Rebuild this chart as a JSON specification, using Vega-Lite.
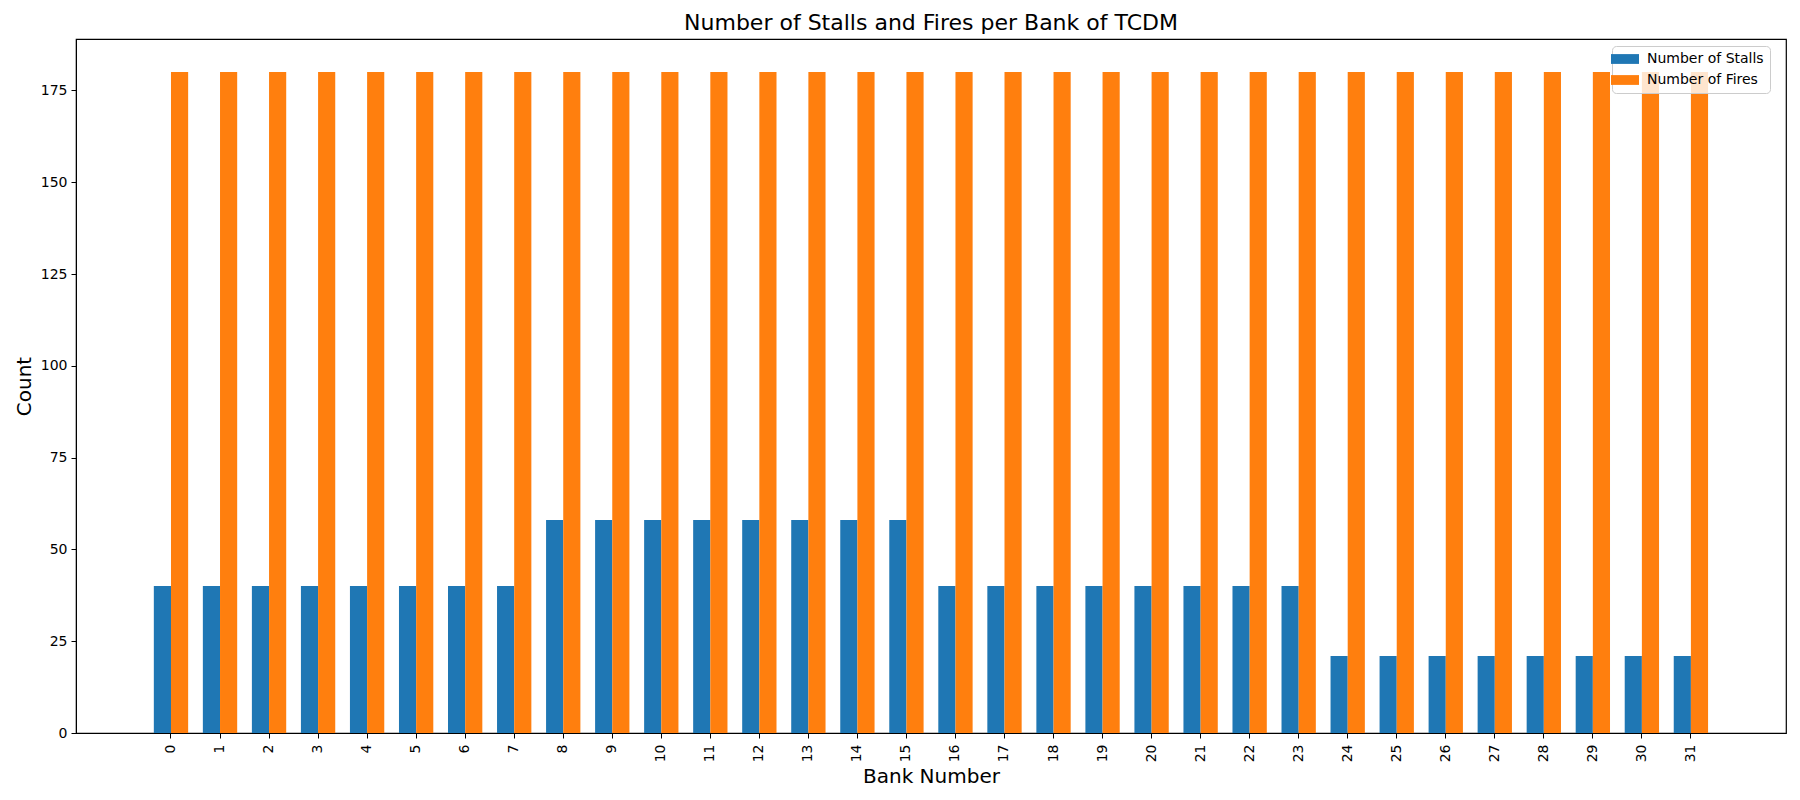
{
  "$schema": "https://vega.github.io/schema/vega-lite/v6.json",
  "autosize": "none",
  "width": 1710,
  "height": 694,
  "padding": {"left": 76, "top": 39, "right": 14, "bottom": 67},
  "background": "white",
  "title": {
    "text": "Number of Stalls and Fires per Bank of TCDM",
    "font": "DejaVu Sans",
    "fontSize": 22,
    "fontWeight": "normal",
    "color": "black",
    "anchor": "middle",
    "offset": 4
  },
  "config": {
    "view": {"stroke": "black", "strokeWidth": 1.2},
    "font": "DejaVu Sans",
    "axis": {
      "labelFont": "DejaVu Sans",
      "titleFont": "DejaVu Sans",
      "labelFontSize": 14,
      "titleFontSize": 20,
      "titleFontWeight": "normal",
      "labelColor": "black",
      "titleColor": "black",
      "domainColor": "black",
      "tickColor": "black",
      "tickSize": 5,
      "grid": false
    },
    "legend": {
      "labelFont": "DejaVu Sans",
      "labelFontSize": 14,
      "labelColor": "black",
      "labelLimit": 400
    }
  },
  "data": {
    "values": [
      {"bank": 0, "series": "Number of Stalls", "count": 40},
      {"bank": 1, "series": "Number of Stalls", "count": 40},
      {"bank": 2, "series": "Number of Stalls", "count": 40},
      {"bank": 3, "series": "Number of Stalls", "count": 40},
      {"bank": 4, "series": "Number of Stalls", "count": 40},
      {"bank": 5, "series": "Number of Stalls", "count": 40},
      {"bank": 6, "series": "Number of Stalls", "count": 40},
      {"bank": 7, "series": "Number of Stalls", "count": 40},
      {"bank": 8, "series": "Number of Stalls", "count": 58},
      {"bank": 9, "series": "Number of Stalls", "count": 58},
      {"bank": 10, "series": "Number of Stalls", "count": 58},
      {"bank": 11, "series": "Number of Stalls", "count": 58},
      {"bank": 12, "series": "Number of Stalls", "count": 58},
      {"bank": 13, "series": "Number of Stalls", "count": 58},
      {"bank": 14, "series": "Number of Stalls", "count": 58},
      {"bank": 15, "series": "Number of Stalls", "count": 58},
      {"bank": 16, "series": "Number of Stalls", "count": 40},
      {"bank": 17, "series": "Number of Stalls", "count": 40},
      {"bank": 18, "series": "Number of Stalls", "count": 40},
      {"bank": 19, "series": "Number of Stalls", "count": 40},
      {"bank": 20, "series": "Number of Stalls", "count": 40},
      {"bank": 21, "series": "Number of Stalls", "count": 40},
      {"bank": 22, "series": "Number of Stalls", "count": 40},
      {"bank": 23, "series": "Number of Stalls", "count": 40},
      {"bank": 24, "series": "Number of Stalls", "count": 21},
      {"bank": 25, "series": "Number of Stalls", "count": 21},
      {"bank": 26, "series": "Number of Stalls", "count": 21},
      {"bank": 27, "series": "Number of Stalls", "count": 21},
      {"bank": 28, "series": "Number of Stalls", "count": 21},
      {"bank": 29, "series": "Number of Stalls", "count": 21},
      {"bank": 30, "series": "Number of Stalls", "count": 21},
      {"bank": 31, "series": "Number of Stalls", "count": 21},
      {"bank": 0, "series": "Number of Fires", "count": 180},
      {"bank": 1, "series": "Number of Fires", "count": 180},
      {"bank": 2, "series": "Number of Fires", "count": 180},
      {"bank": 3, "series": "Number of Fires", "count": 180},
      {"bank": 4, "series": "Number of Fires", "count": 180},
      {"bank": 5, "series": "Number of Fires", "count": 180},
      {"bank": 6, "series": "Number of Fires", "count": 180},
      {"bank": 7, "series": "Number of Fires", "count": 180},
      {"bank": 8, "series": "Number of Fires", "count": 180},
      {"bank": 9, "series": "Number of Fires", "count": 180},
      {"bank": 10, "series": "Number of Fires", "count": 180},
      {"bank": 11, "series": "Number of Fires", "count": 180},
      {"bank": 12, "series": "Number of Fires", "count": 180},
      {"bank": 13, "series": "Number of Fires", "count": 180},
      {"bank": 14, "series": "Number of Fires", "count": 180},
      {"bank": 15, "series": "Number of Fires", "count": 180},
      {"bank": 16, "series": "Number of Fires", "count": 180},
      {"bank": 17, "series": "Number of Fires", "count": 180},
      {"bank": 18, "series": "Number of Fires", "count": 180},
      {"bank": 19, "series": "Number of Fires", "count": 180},
      {"bank": 20, "series": "Number of Fires", "count": 180},
      {"bank": 21, "series": "Number of Fires", "count": 180},
      {"bank": 22, "series": "Number of Fires", "count": 180},
      {"bank": 23, "series": "Number of Fires", "count": 180},
      {"bank": 24, "series": "Number of Fires", "count": 180},
      {"bank": 25, "series": "Number of Fires", "count": 180},
      {"bank": 26, "series": "Number of Fires", "count": 180},
      {"bank": 27, "series": "Number of Fires", "count": 180},
      {"bank": 28, "series": "Number of Fires", "count": 180},
      {"bank": 29, "series": "Number of Fires", "count": 180},
      {"bank": 30, "series": "Number of Fires", "count": 180},
      {"bank": 31, "series": "Number of Fires", "count": 180}
    ]
  },
  "mark": {"type": "bar"},
  "encoding": {
    "x": {
      "field": "bank",
      "type": "ordinal",
      "sort": "ascending",
      "scale": {"paddingInner": 0.3, "paddingOuter": 1, "range": [28.8, 1681.1]},
      "axis": {
        "title": "Bank Number",
        "labelAngle": -90,
        "labelPadding": 6,
        "titlePadding": 5
      }
    },
    "xOffset": {
      "field": "series",
      "type": "nominal",
      "scale": {"domain": ["Number of Stalls", "Number of Fires"], "paddingInner": 0, "paddingOuter": 0}
    },
    "y": {
      "field": "count",
      "type": "quantitative",
      "scale": {"domain": [0, 189], "nice": false, "zero": true},
      "axis": {
        "title": "Count",
        "values": [0, 25, 50, 75, 100, 125, 150, 175],
        "labelPadding": 4,
        "titlePadding": 6
      }
    },
    "color": {
      "field": "series",
      "type": "nominal",
      "scale": {"domain": ["Number of Stalls", "Number of Fires"], "range": ["#1f77b4", "#ff7f0e"]},
      "legend": {
        "title": null,
        "orient": "none",
        "legendX": 1536,
        "legendY": 7,
        "symbolType": "M-2,-0.7h4v1.4h-4Z",
        "symbolSize": 196,
        "symbolStrokeWidth": 0,
        "labelFont": "DejaVu Sans",
        "labelFontSize": 14,
        "labelColor": "black",
        "labelOffset": 15,
        "rowPadding": 7,
        "padding": 6,
        "fillColor": "rgba(255,255,255,0.8)",
        "strokeColor": "#cccccc",
        "cornerRadius": 4
      }
    }
  }
}
